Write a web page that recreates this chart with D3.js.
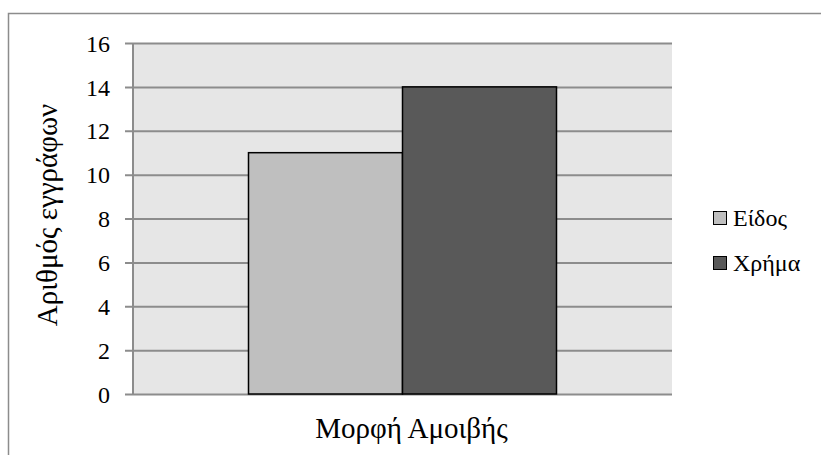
<!DOCTYPE html>
<html>
<head>
<meta charset="utf-8">
<script src="https://cdn.jsdelivr.net/npm/d3@7"></script>
</head>
<body style="margin:0">
<svg id="chart" width="821" height="455" style="display:block"></svg>
<script>
// Data
const categories = ["Μορφή Αμοιβής"];
const seriesNames = ["Είδος", "Χρήμα"];
const seriesValues = [11, 14];
const seriesColors = ["#bfbfbf", "#595959"];
const yTicks = [0, 2, 4, 6, 8, 10, 12, 14, 16];
const yTitle = "Αριθμός εγγράφων";

const FONT = "Liberation Serif";
const svg = d3.select("#chart");
const plot = { left: 133, right: 672, top: 43, bottom: 394 };

// Chart frame (only its top and left edges fall inside the view)
svg.append("rect")
  .attr("x", 8.5).attr("y", 13.5)
  .attr("width", 900).attr("height", 600)
  .attr("fill", "none").attr("stroke", "#8c8c8c").attr("stroke-width", 1.5);

const y = d3.scaleLinear().domain([0, 16]).range([plot.bottom, plot.top]);
const x0 = d3.scaleBand().domain(categories).range([plot.left, plot.right]).padding(0);
const x1 = d3.scaleBand().domain(seriesNames).range([0, x0.bandwidth()])
  .paddingInner(0).paddingOuter(0.75);

// Plot background
svg.append("rect")
  .attr("x", plot.left).attr("y", plot.top)
  .attr("width", plot.right - plot.left).attr("height", plot.bottom - plot.top)
  .attr("fill", "#e6e6e6");

// Gridlines, tick marks and tick labels
const yAxis = d3.axisLeft(y).tickValues(yTicks)
  .tickSize(-(plot.right - plot.left)).tickPadding(23)
  .tickFormat(d3.format("d"));
const gy = svg.append("g").attr("transform", `translate(${plot.left},0)`).call(yAxis)
  .attr("font-family", FONT).attr("font-size", 24);
gy.select(".domain").remove();
gy.selectAll(".tick line").attr("stroke", "#8c8c8c").attr("stroke-width", 2).attr("x1", -8);
gy.selectAll(".tick text")
  .attr("fill", "#000").attr("dy", "0.34em")
  .style("font-family", FONT).style("font-size", "24px");

// Left axis line
svg.append("line")
  .attr("x1", plot.left).attr("x2", plot.left)
  .attr("y1", plot.top).attr("y2", plot.bottom)
  .attr("stroke", "#8c8c8c").attr("stroke-width", 2);

// Bars
const g = svg.append("g");
categories.forEach(cat => {
  seriesNames.forEach((s, i) => {
    g.append("rect")
      .attr("x", x0(cat) + x1(s))
      .attr("y", y(seriesValues[i]))
      .attr("width", x1.bandwidth())
      .attr("height", y(0) - y(seriesValues[i]))
      .attr("fill", seriesColors[i])
      .attr("stroke", "#000").attr("stroke-width", 1.5);
  });
});

// Category label
svg.append("text")
  .attr("x", x0(categories[0]) + x0.bandwidth() / 2 + 9)
  .attr("y", 438)
  .attr("text-anchor", "middle")
  .style("font-family", FONT).style("font-size", "29px")
  .text(categories[0]);

// Y axis title
svg.append("text")
  .attr("transform", "translate(57, 215) rotate(-90)")
  .attr("text-anchor", "middle")
  .style("font-family", FONT).style("font-size", "29px")
  .text(yTitle);

// Legend
const legend = svg.append("g");
const legendY = [218, 263];
seriesNames.forEach((s, i) => {
  const row = legend.append("g").attr("transform", `translate(713, ${legendY[i]})`);
  row.append("rect")
    .attr("x", 0.5).attr("y", -6.5).attr("width", 13).attr("height", 13)
    .attr("fill", seriesColors[i]).attr("stroke", "#000").attr("stroke-width", 1);
  row.append("text")
    .attr("x", 20).attr("y", 0).attr("dy", "0.35em")
    .style("font-family", FONT).style("font-size", "24px")
    .text(s);
});
</script>
</body>
</html>
